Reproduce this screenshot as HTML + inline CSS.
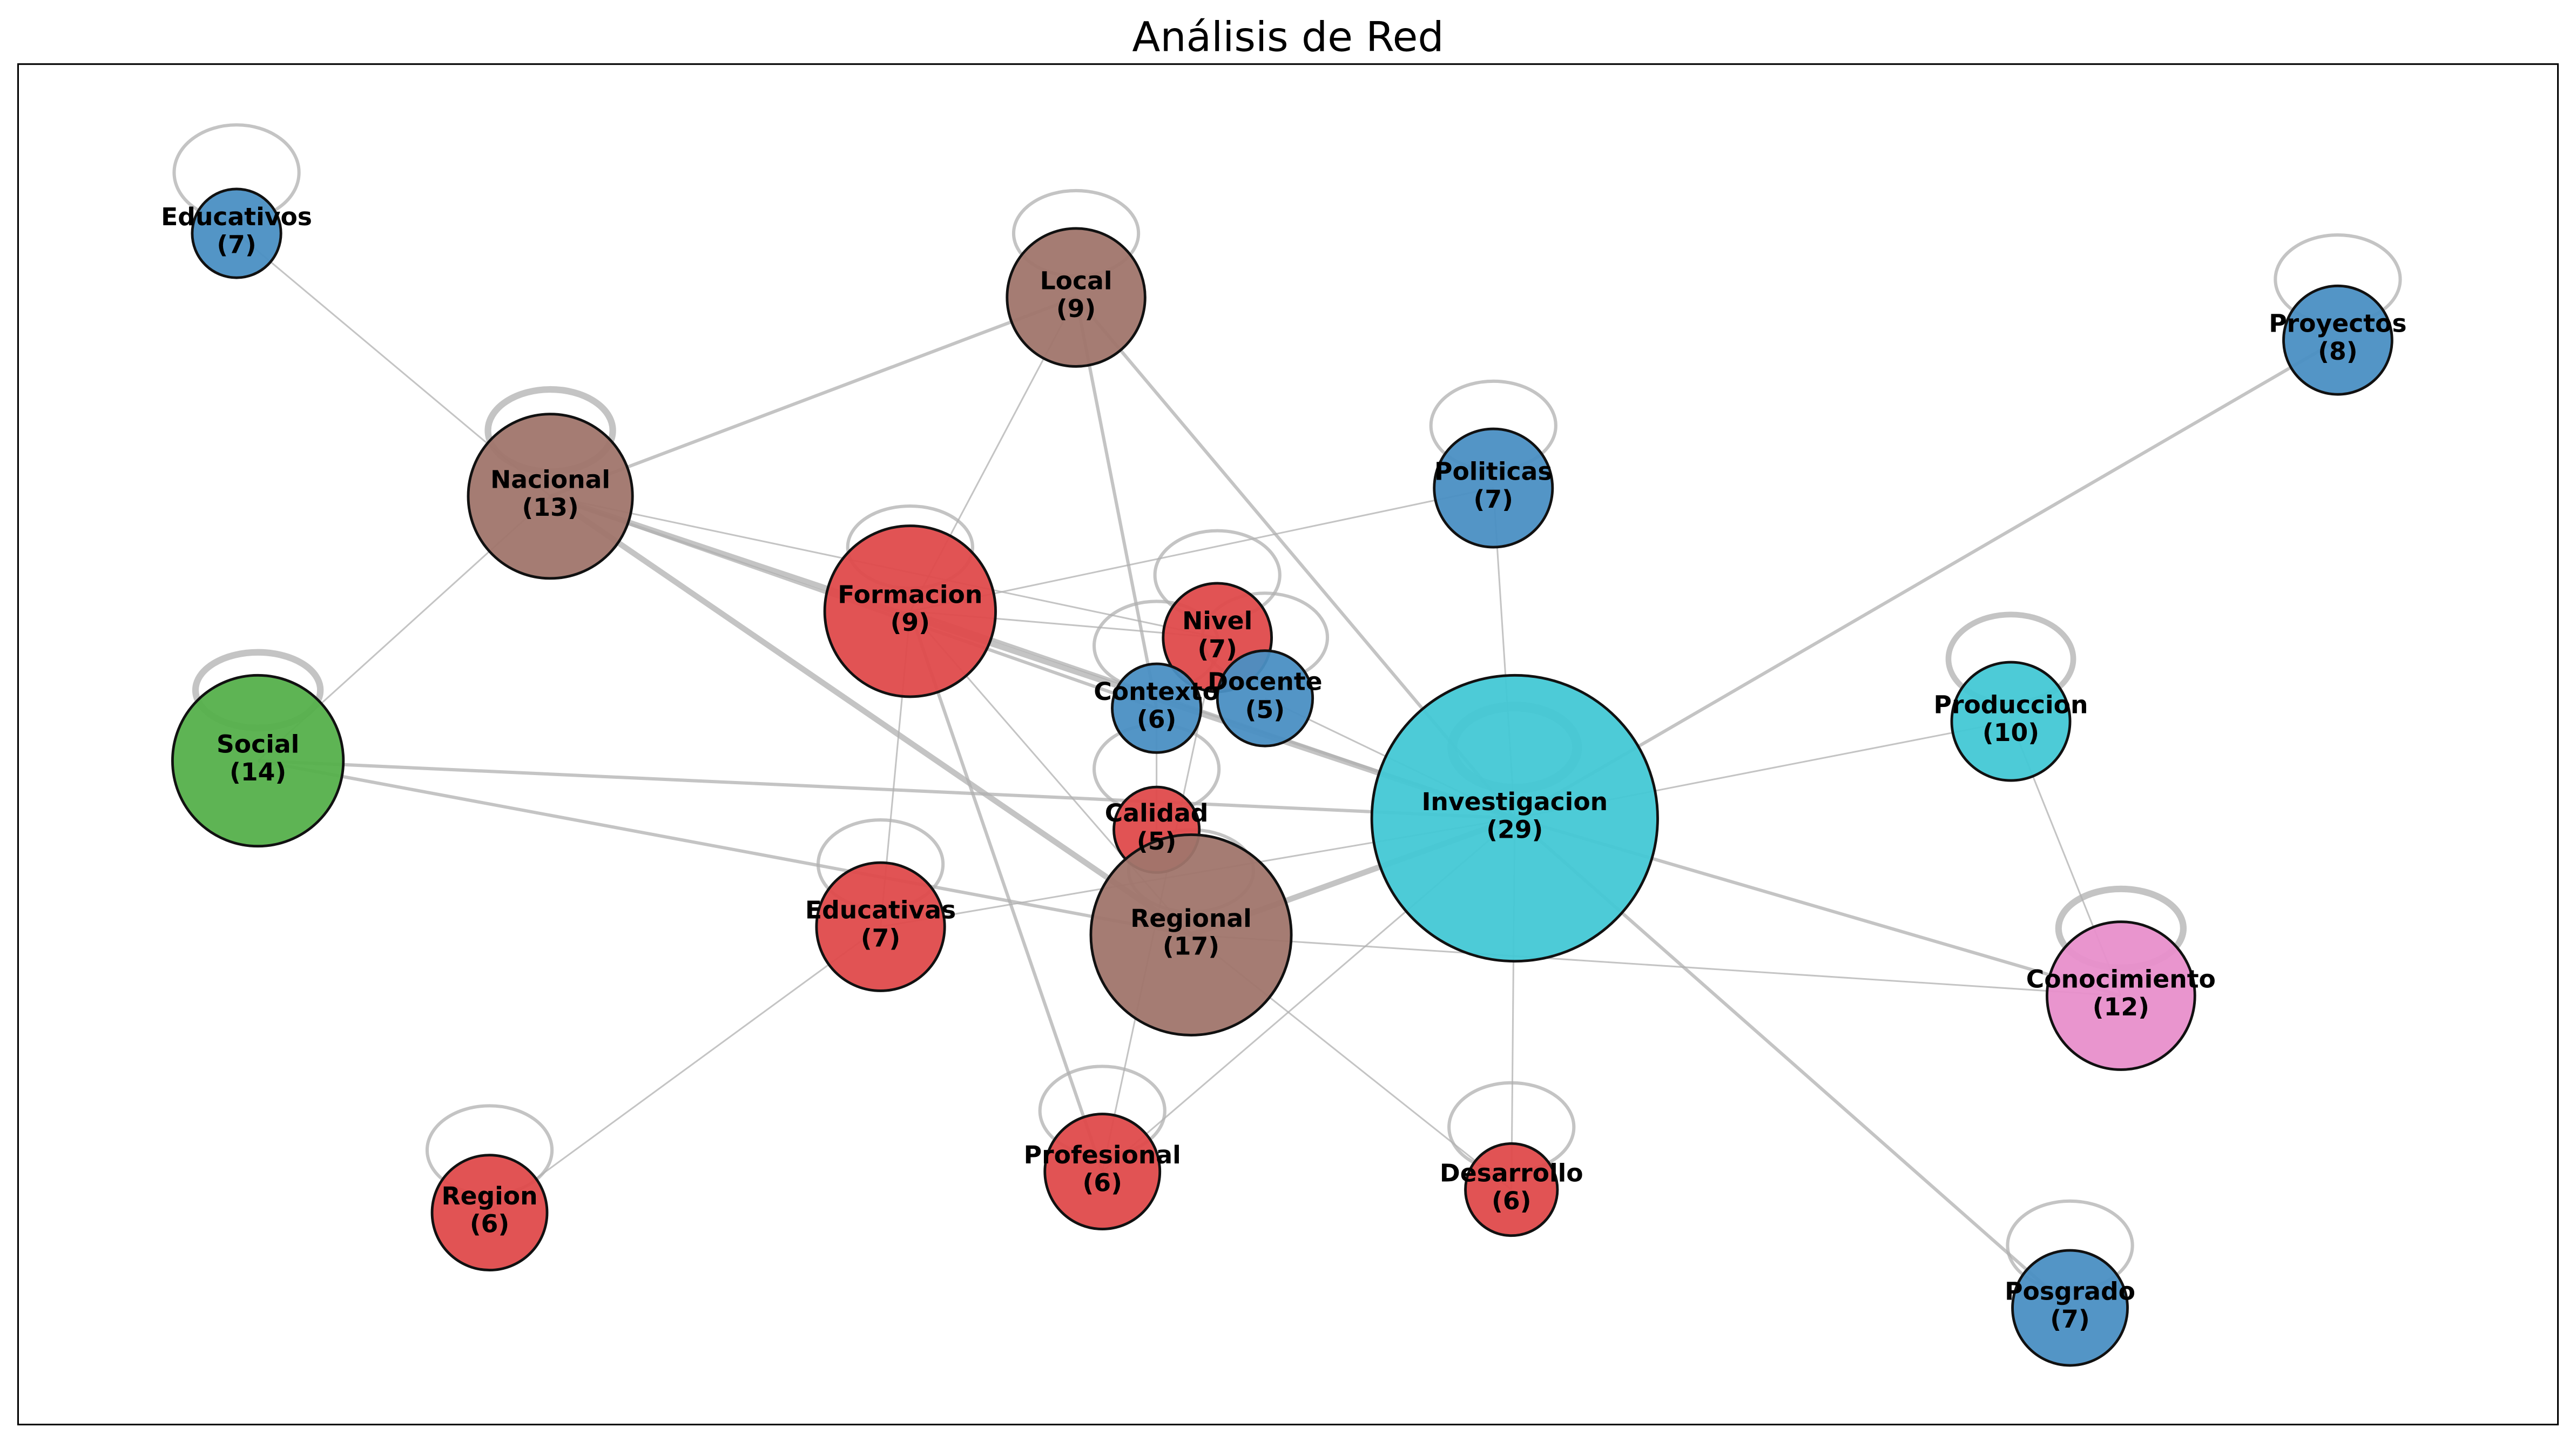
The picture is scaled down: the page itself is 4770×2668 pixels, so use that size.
<!DOCTYPE html>
<html><head><meta charset="utf-8"><style>
html,body{margin:0;padding:0;background:#fff;}
svg{display:block;}
text{font-family:"DejaVu Sans","Liberation Sans",sans-serif;}
.l{font-weight:bold;font-size:15px;text-anchor:middle;fill:#000;}
</style></head><body>
<svg width="4770" height="2668" viewBox="0 0 1568 877" xmlns="http://www.w3.org/2000/svg">
<rect width="1568" height="877" fill="#fff"/>
<text x="784" y="31" font-size="25" text-anchor="middle">Análisis de Red</text>
<rect x="11" y="39" width="1546" height="828" fill="none" stroke="#000" stroke-width="1"/>
<g stroke="#b0b0b0" stroke-opacity="0.75" fill="none">
<g stroke-width="1">
<line x1="144" y1="142" x2="335" y2="302"/>
<line x1="335" y1="302" x2="157" y2="463"/>
<line x1="655" y1="181" x2="554" y2="372"/>
<line x1="909" y1="297" x2="554" y2="372"/>
<line x1="909" y1="297" x2="922" y2="498"/>
<line x1="554" y1="372" x2="741" y2="388"/>
<line x1="554" y1="372" x2="536" y2="564"/>
<line x1="554" y1="372" x2="725" y2="569"/>
<line x1="335" y1="302" x2="741" y2="388"/>
<line x1="922" y1="498" x2="1224" y2="439"/>
<line x1="1224" y1="439" x2="1291" y2="606"/>
<line x1="922" y1="498" x2="920" y2="724"/>
<line x1="725" y1="569" x2="920" y2="724"/>
<line x1="536" y1="564" x2="298" y2="738"/>
<line x1="536" y1="564" x2="922" y2="498"/>
<line x1="922" y1="498" x2="671" y2="713"/>
<line x1="741" y1="388" x2="671" y2="713"/>
<line x1="770" y1="425" x2="922" y2="498"/>
<line x1="725" y1="569" x2="1291" y2="606"/>
<line x1="704" y1="431" x2="704" y2="505"/>
</g>
<g stroke-width="2">
<line x1="335" y1="302" x2="655" y2="181"/>
<line x1="655" y1="181" x2="922" y2="498"/>
<line x1="655" y1="181" x2="704" y2="431"/>
<line x1="1423" y1="207" x2="922" y2="498"/>
<line x1="554" y1="372" x2="671" y2="713"/>
<line x1="157" y1="463" x2="922" y2="498"/>
<line x1="157" y1="463" x2="725" y2="569"/>
<line x1="922" y1="498" x2="1291" y2="606"/>
<line x1="922" y1="498" x2="1260" y2="796"/>
<line x1="335" y1="302" x2="704" y2="431"/>
<line x1="554" y1="372" x2="922" y2="498"/>
</g>
<g stroke-width="3.5">
<line x1="335" y1="302" x2="725" y2="569"/>
<line x1="922" y1="498" x2="725" y2="569"/>
<line x1="335" y1="302" x2="922" y2="498"/>
</g>
<g stroke-width="2">
<ellipse cx="144" cy="105" rx="38" ry="29"/>
<ellipse cx="655" cy="142" rx="38" ry="26"/>
<ellipse cx="1423" cy="170" rx="38" ry="27"/>
<ellipse cx="335" cy="262" rx="38" ry="25" stroke-width="4"/>
<ellipse cx="909" cy="259" rx="38" ry="27"/>
<ellipse cx="554" cy="333" rx="38" ry="25"/>
<ellipse cx="741" cy="350" rx="38" ry="27"/>
<ellipse cx="770" cy="388" rx="38" ry="27"/>
<ellipse cx="704" cy="393" rx="38" ry="27"/>
<ellipse cx="157" cy="420" rx="38" ry="23" stroke-width="4"/>
<ellipse cx="1224" cy="401" rx="38" ry="27" stroke-width="3.5"/>
<ellipse cx="922" cy="455" rx="38" ry="25" stroke-width="6"/>
<ellipse cx="704" cy="468" rx="38" ry="27"/>
<ellipse cx="536" cy="526" rx="38" ry="27"/>
<ellipse cx="725" cy="530" rx="38" ry="25"/>
<ellipse cx="1291" cy="565" rx="38" ry="24" stroke-width="4"/>
<ellipse cx="671" cy="676" rx="38" ry="27"/>
<ellipse cx="920" cy="686" rx="38" ry="27"/>
<ellipse cx="298" cy="700" rx="38" ry="27"/>
<ellipse cx="1260" cy="758" rx="38" ry="27"/>
</g>
</g>
<g stroke="#111" stroke-width="1.6" fill-opacity="0.95">
<circle cx="144" cy="142" r="27" fill="#4a8fc3"/>
<circle cx="655" cy="181" r="42" fill="#a0756b"/>
<circle cx="1423" cy="207" r="33" fill="#4a8fc3"/>
<circle cx="335" cy="302" r="50" fill="#a0756b"/>
<circle cx="909" cy="297" r="36" fill="#4a8fc3"/>
<circle cx="554" cy="372" r="52" fill="#df4a4b"/>
<circle cx="741" cy="388" r="33" fill="#df4a4b"/>
<circle cx="770" cy="425" r="29" fill="#4a8fc3"/>
<circle cx="704" cy="431" r="27" fill="#4a8fc3"/>
<circle cx="157" cy="463" r="52" fill="#55b04b"/>
<circle cx="1224" cy="439" r="36" fill="#43c8d5"/>
<circle cx="922" cy="498" r="87" fill="#43c8d5"/>
<circle cx="704" cy="505" r="26" fill="#df4a4b"/>
<circle cx="536" cy="564" r="39" fill="#df4a4b"/>
<circle cx="725" cy="569" r="61" fill="#a0756b"/>
<circle cx="1291" cy="606" r="45" fill="#e88fcb"/>
<circle cx="671" cy="713" r="35" fill="#df4a4b"/>
<circle cx="920" cy="724" r="28" fill="#df4a4b"/>
<circle cx="298" cy="738" r="35" fill="#df4a4b"/>
<circle cx="1260" cy="796" r="35" fill="#4a8fc3"/>
</g>
<g>
<text class="l" x="144" y="137">Educativos</text><text class="l" x="144" y="154">(7)</text>
<text class="l" x="655" y="176">Local</text><text class="l" x="655" y="193">(9)</text>
<text class="l" x="1423" y="202">Proyectos</text><text class="l" x="1423" y="219">(8)</text>
<text class="l" x="335" y="297">Nacional</text><text class="l" x="335" y="314">(13)</text>
<text class="l" x="909" y="292">Politicas</text><text class="l" x="909" y="309">(7)</text>
<text class="l" x="554" y="367">Formacion</text><text class="l" x="554" y="384">(9)</text>
<text class="l" x="741" y="383">Nivel</text><text class="l" x="741" y="400">(7)</text>
<text class="l" x="770" y="420">Docente</text><text class="l" x="770" y="437">(5)</text>
<text class="l" x="704" y="426">Contexto</text><text class="l" x="704" y="443">(6)</text>
<text class="l" x="157" y="458">Social</text><text class="l" x="157" y="475">(14)</text>
<text class="l" x="1224" y="434">Produccion</text><text class="l" x="1224" y="451">(10)</text>
<text class="l" x="922" y="493">Investigacion</text><text class="l" x="922" y="510">(29)</text>
<text class="l" x="704" y="500">Calidad</text><text class="l" x="704" y="517">(5)</text>
<text class="l" x="536" y="559">Educativas</text><text class="l" x="536" y="576">(7)</text>
<text class="l" x="725" y="564">Regional</text><text class="l" x="725" y="581">(17)</text>
<text class="l" x="1291" y="601">Conocimiento</text><text class="l" x="1291" y="618">(12)</text>
<text class="l" x="671" y="708">Profesional</text><text class="l" x="671" y="725">(6)</text>
<text class="l" x="920" y="719">Desarrollo</text><text class="l" x="920" y="736">(6)</text>
<text class="l" x="298" y="733">Region</text><text class="l" x="298" y="750">(6)</text>
<text class="l" x="1260" y="791">Posgrado</text><text class="l" x="1260" y="808">(7)</text>
</g>
</svg>
</body></html>
